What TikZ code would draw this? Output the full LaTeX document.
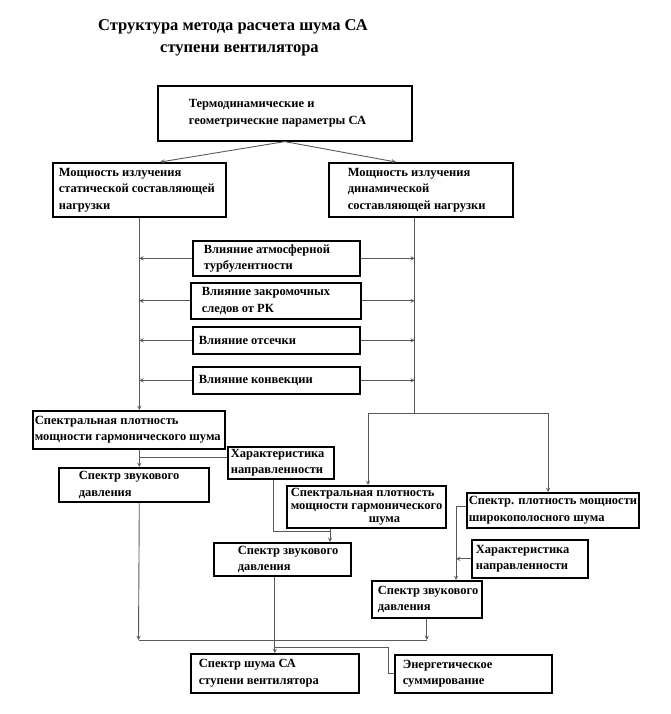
\documentclass[tikz,border=0pt]{standalone}
\usepackage{fontspec}
\setmainfont{Liberation Serif}
\usetikzlibrary{positioning,arrows}

\begin{document}
\begin{tikzpicture}[x=1pt,y=-1pt,
	box/.style={draw, line width=1.6pt, rectangle, anchor=north west, align=flush left,
		inner sep=0pt, font=\bfseries\fontsize{12.5}{16.5}\selectfont},
	lead/.style={execute at begin node={\leftskip=#1pt}},
	link/.style={draw=black!65, line width=0.9pt},
	>=stealth]
	\useasboundingbox (0,0) rectangle (670,714);

	\node[font=\bfseries\fontsize{16.5}{22}\selectfont, align=left] (title) at (233,38)
		{Структура метода расчета шума СА\\\hspace*{62pt}ступени вентилятора};

	% upper part
	\node[box, lead=31, text width=254pt, minimum height=55pt] (params) at (157,85) {Термодинамические и\\геометрические параметры СА};
	\node[box, lead=6, text width=173pt, minimum height=54pt] (stat) at (52,162) {Мощность излучения\\статической составляющей\\нагрузки};
	\node[box, lead=19, text width=184pt, minimum height=54pt] (dyn) at (328,162) {Мощность излучения\\динамической\\составляющей нагрузки};

	\node[box, lead=11, text width=167pt, minimum height=35pt] (turb) at (192,240) {Влияние атмосферной\\турбулентности};
	\node[box, lead=11, text width=170pt, minimum height=36pt] (wake) at (190,282) {Влияние закромочных\\следов от РК};
	\node[box, lead=6, text width=167pt, minimum height=27pt] (cut) at (192,326) {Влияние отсечки};
	\node[box, lead=6, text width=167pt, minimum height=27pt] (conv) at (192,366) {Влияние конвекции};

	% lower part
	\node[box, lead=2, text width=192pt, minimum height=38pt] (harmL) at (32,410) {Спектральная плотность\\мощности гармонического шума};
	\node[box, lead=3, text width=106pt, minimum height=32pt] (dirL) at (227,446) {Характеристика\\направленности};
	\node[box, lead=20, text width=150pt, minimum height=34pt] (splL) at (58,467) {Спектр звукового\\давления};
	\node[box, lead=4, text width=159pt, minimum height=42pt,
		font=\bfseries\fontsize{12.5}{13}\selectfont] (harmM) at (286,485) {Спектральная плотность\\мощности гармонического\\\hspace*{78pt}шума};
	\node[box, lead=24, text width=137pt, minimum height=33pt] (splM) at (213,542) {Спектр звукового\\давления};
	\node[box, lead=2, text width=172pt, minimum height=35pt] (broad) at (466,492) {Спектр. плотность мощности\\широкополосного шума};
	\node[box, lead=4, text width=116pt, minimum height=38pt] (dirR) at (471,539) {Характеристика\\направленности};
	\node[box, lead=6, text width=110pt, minimum height=37pt] (splR) at (371,580) {Спектр звукового\\давления};
	\node[box, lead=8, text width=168pt, minimum height=39pt] (total) at (190,653) {Спектр шума СА\\ступени вентилятора};
	\node[box, lead=8, text width=157pt, minimum height=38pt] (energy) at (394,654) {Энергетическое\\суммирование};

	% connectors
	\coordinate (spineR) at ([xshift=-6pt]dyn.south);
	\coordinate (branchL) at (368,413);
	\coordinate (branchR) at (548,413);
	\coordinate (joinM) at (330,531);
	\coordinate (hookR) at ([xshift=-10pt]broad.west);
	\coordinate (mergeL) at (138.5,640);
	\coordinate (mergeR) at (splR.south |- mergeL);
	\coordinate (feed) at ([yshift=6pt]total.north);

	\draw[link,->] (params.south) -- ([xshift=21pt]stat.north);
	\draw[link,->] (params.south) -- ([xshift=-25pt]dyn.north);
	\draw[link,->] (stat.south) -- (stat.south |- harmL.north);
	\draw[link] (spineR) -- (spineR |- branchL);
	\foreach \n in {turb,wake,cut,conv} {
		\draw[link,->] (\n.west) -- (\n.west -| stat.south);
		\draw[link,->] (\n.east) -- (\n.east -| spineR);
	}
	\draw[link] (branchL) -- (branchR);
	\draw[link,->] (branchL) -- (branchL |- harmM.north);
	\draw[link,->] (branchR) -- (branchR |- broad.north);

	\draw[link,->] (stat.south |- harmL.south) -- (stat.south |- splL.north);
	\draw[link] ([yshift=5pt]dirL.west) -- ([yshift=5pt]dirL.west -| stat.south);
	\draw[link] ([xshift=-7pt]dirL.south) |- (joinM);
	\draw[link,->] (harmM.south -| joinM) -- (joinM |- splM.north);
	\draw[link] ([yshift=4pt]broad.west) -- ([yshift=4pt]hookR);
	\draw[link,->] ([yshift=4pt]hookR) -- (hookR |- splR.north);
	\draw[link,->] (dirR.west) -- (dirR.west -| hookR);

	\draw[link,->] (stat.south |- splL.south) -- (mergeL);
	\draw[link,->] (splR.south) -- (mergeR);
	\draw[link] (mergeL) -- (mergeR);
	\draw[link,->] (total.north |- splM.south) -- (total.north);
	\draw[link] (energy.west) -- ++(-6,0) |- (feed);
\end{tikzpicture}
\end{document}
